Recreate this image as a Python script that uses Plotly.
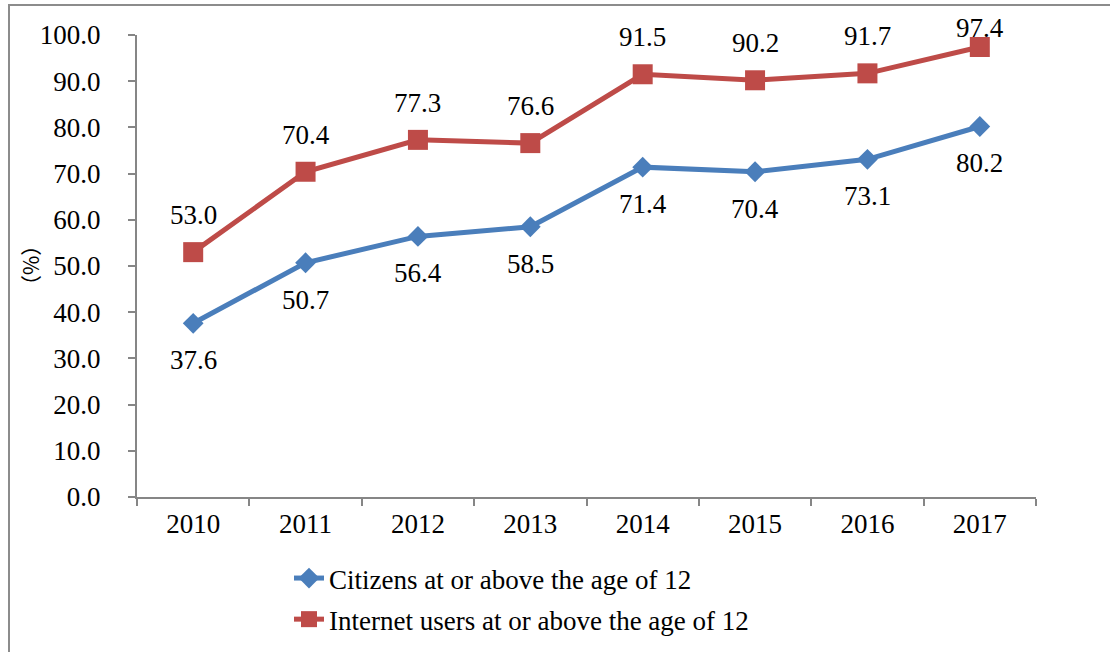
import plotly.graph_objects as go

years = ["2010", "2011", "2012", "2013", "2014", "2015", "2016", "2017"]
citizens = [37.6, 50.7, 56.4, 58.5, 71.4, 70.4, 73.1, 80.2]
internet = [53.0, 70.4, 77.3, 76.6, 91.5, 90.2, 91.7, 97.4]
y_ticks = [0, 10, 20, 30, 40, 50, 60, 70, 80, 90, 100]
name_citizens = "Citizens at or above the age of 12"
name_internet = "Internet users at or above the age of 12"
y_title = "（%）"

BLUE = "#4A7EBB"
RED = "#BE4B48"
AXIS = "#868686"
FONT = "Liberation Serif"
FS = 27

W, H = 1110, 652
ML, MR, MT, MB = 137, 74, 35, 155
plot_h = H - MT - MB
pw = W - ML - MR


def px_x(p):
    return (p - ML) / pw


def px_y(p):
    return (H - MB - p) / plot_h


fig = go.Figure()
fig.add_trace(go.Scatter(
    x=years, y=citizens, name=name_citizens, mode="lines+markers",
    line=dict(color=BLUE, width=5),
    marker=dict(symbol="diamond", size=16, color=BLUE),
    legendgroup="a",
))
fig.add_trace(go.Scatter(
    x=years, y=internet, name=name_internet, mode="lines+markers",
    line=dict(color=RED, width=5),
    marker=dict(symbol="square", size=20, color=RED),
    legendgroup="b",
))

px_per_unit = plot_h / 100.0
for i, v in enumerate(citizens):
    fig.add_annotation(x=i, y=v, xref="x", yref="y", text=f"{v:.1f}",
                       showarrow=False, yshift=-37,
                       font=dict(family=FONT, size=FS, color="black"))
for i, v in enumerate(internet):
    top_room = (100 - v) * px_per_unit + MT - 28  # keep label inside the chart top
    shift = min(37, top_room)
    fig.add_annotation(x=i, y=v, xref="x", yref="y", text=f"{v:.1f}",
                       showarrow=False, yshift=shift,
                       font=dict(family=FONT, size=FS, color="black"))
fig.add_annotation(x=0, y=0.5, xref="paper", yref="paper", text=y_title,
                   textangle=-90, showarrow=False, xshift=-124,
                   font=dict(family="Noto Sans CJK SC", size=21, color="black"))

fig.update_layout(
    width=W, height=H,
    margin=dict(l=ML, r=MR, t=MT, b=MB, autoexpand=False),
    paper_bgcolor="white", plot_bgcolor="white",
    font=dict(family=FONT, size=FS, color="black"),
    xaxis=dict(
        type="category", range=[-0.5, 7.5],
        showline=True, linecolor=AXIS, linewidth=2,
        ticks="outside", tickson="boundaries", ticklen=7, tickcolor=AXIS, tickwidth=2,
        showgrid=False, zeroline=False,
        tickfont=dict(family=FONT, size=FS, color="black"),
        ticklabelstandoff=2,
    ),
    yaxis=dict(
        range=[0, 100], tickvals=y_ticks, tickformat=".1f",
        showline=True, linecolor=AXIS, linewidth=2,
        ticks="outside", ticklen=7, tickcolor=AXIS, tickwidth=2,
        showgrid=False, zeroline=False,
        tickfont=dict(family=FONT, size=FS, color="black"),
        ticklabelstandoff=22,
    ),
    legend=dict(x=px_x(289), y=px_y(554), xanchor="left", yanchor="top",
                tracegroupgap=3,
                bgcolor="rgba(0,0,0,0)", font=dict(family=FONT, size=FS, color="black")),
    shapes=[dict(type="rect", xref="paper", yref="paper",
                 x0=px_x(9), x1=px_x(1130), y0=px_y(680), y1=px_y(5),
                 line=dict(color="#8C8C8C", width=2), layer="below")],
)

fig.write_html("out.html")
